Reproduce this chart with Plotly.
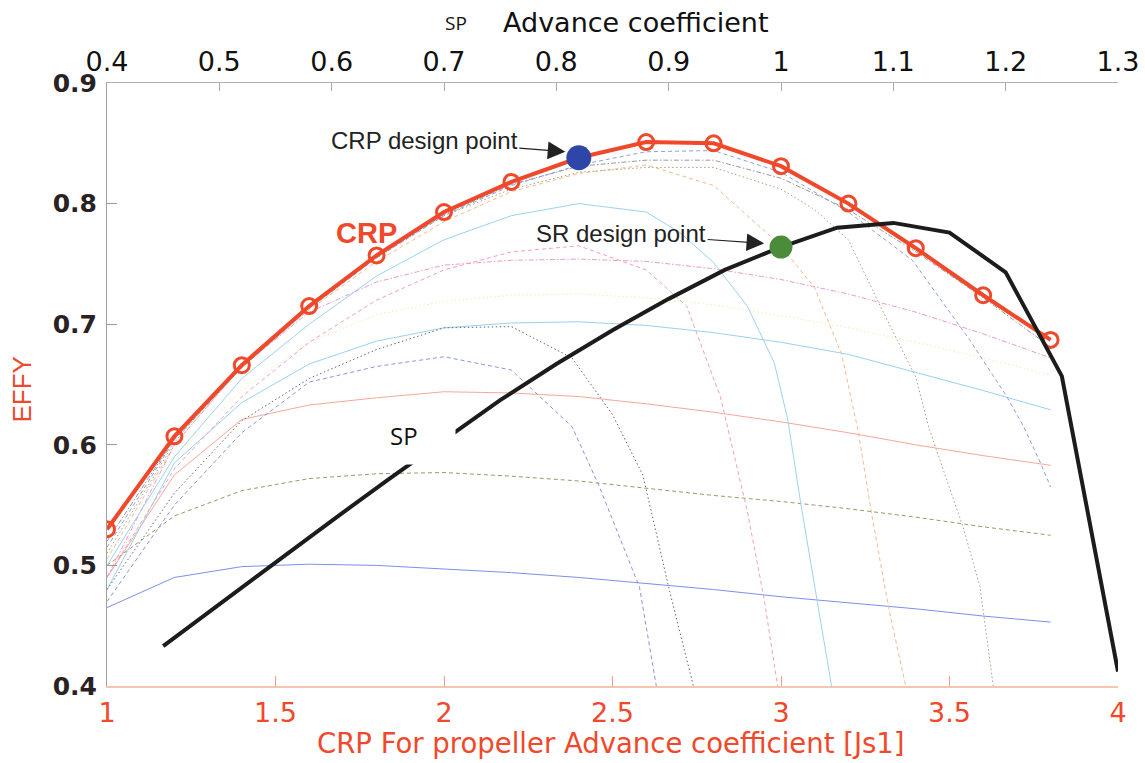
import plotly.graph_objects as go

# ---------------- data ----------------
# CRP propeller: efficiency against Js1 (bottom axis)
crp_js1 = [1.0, 1.2, 1.4, 1.6, 1.8, 2.0, 2.2, 2.4, 2.6, 2.8, 3.0, 3.2, 3.4, 3.6, 3.8]
crp_eff = [0.530, 0.607, 0.666, 0.715, 0.757, 0.793, 0.818, 0.838, 0.851, 0.850,
           0.831, 0.800, 0.763, 0.724, 0.687]

# single (SP) propeller: efficiency against its advance coefficient (top axis)
sp_j = [0.45, 0.50, 0.55, 0.60, 0.65, 0.70, 0.75, 0.80, 0.85, 0.90, 0.95,
        1.00, 1.05, 1.10, 1.15, 1.20, 1.25, 1.30]
sp_eff = [0.433, 0.468, 0.503, 0.537, 0.571, 0.604, 0.637, 0.667, 0.695, 0.721,
          0.745, 0.764, 0.780, 0.784, 0.776, 0.743, 0.657, 0.412]

# design points
crp_design_js1, crp_design_eff = 2.4, 0.838
sr_design_j, sr_design_eff = 1.0, 0.764

# background family of CRP efficiency curves
fam_js1 = [1.0, 1.2, 1.4, 1.6, 1.8, 2.0, 2.2, 2.4, 2.6, 2.8, 3.0, 3.2, 3.4, 3.6, 3.8]
eff_blue_low = [0.465, 0.490, 0.499, 0.501, 0.500, 0.497, 0.494, 0.490, 0.485,
                0.480, 0.474, 0.469, 0.464, 0.458, 0.453]
eff_olive = [0.500, 0.541, 0.562, 0.572, 0.576, 0.577, 0.574, 0.570, 0.564,
             0.558, 0.553, 0.547, 0.540, 0.532, 0.525]
eff_red = [0.490, 0.575, 0.621, 0.633, 0.639, 0.644, 0.643, 0.640, 0.634,
           0.627, 0.619, 0.610, 0.600, 0.591, 0.583]
eff_cyan = [0.480, 0.585, 0.635, 0.667, 0.686, 0.697, 0.701, 0.702, 0.699,
            0.693, 0.685, 0.675, 0.660, 0.645, 0.629]
eff_yellow = [0.490, 0.590, 0.645, 0.685, 0.708, 0.719, 0.724, 0.725, 0.722,
              0.716, 0.707, 0.697, 0.685, 0.672, 0.658]
eff_magenta = [0.490, 0.600, 0.665, 0.710, 0.735, 0.749, 0.753, 0.754, 0.752,
               0.746, 0.737, 0.725, 0.710, 0.692, 0.672]
eff_grey = [0.520, 0.605, 0.665, 0.714, 0.756, 0.791, 0.816, 0.831, 0.836,
            0.836, 0.821, 0.795, 0.760, 0.722, 0.681]

drop1_js1 = [1.0, 1.2, 1.4, 1.6, 1.8, 2.0, 2.2, 2.38, 2.46, 2.58, 2.63]
drop1_eff = [0.470, 0.550, 0.610, 0.652, 0.665, 0.673, 0.662, 0.615, 0.566, 0.482, 0.400]
drop2_js1 = [1.0, 1.2, 1.4, 1.6, 1.8, 2.0, 2.2, 2.38, 2.5, 2.59, 2.67, 2.74]
drop2_eff = [0.480, 0.560, 0.620, 0.655, 0.679, 0.697, 0.698, 0.672, 0.625, 0.575, 0.478, 0.400]
drop3_js1 = [1.0, 1.2, 1.4, 1.6, 1.8, 2.0, 2.2, 2.4, 2.6, 2.72, 2.82, 2.9, 2.95, 2.99]
drop3_eff = [0.490, 0.580, 0.640, 0.685, 0.720, 0.745, 0.760, 0.765, 0.745, 0.715,
             0.640, 0.545, 0.472, 0.400]
drop4_js1 = [1.0, 1.2, 1.4, 1.6, 1.8, 2.0, 2.2, 2.4, 2.6, 2.7, 2.8, 2.9, 2.98, 3.02,
             3.06, 3.11, 3.15]
drop4_eff = [0.500, 0.590, 0.655, 0.700, 0.740, 0.770, 0.790, 0.800, 0.793, 0.776,
             0.751, 0.715, 0.668, 0.621, 0.549, 0.468, 0.400]
drop5_js1 = [1.0, 1.2, 1.4, 1.6, 1.8, 2.0, 2.2, 2.4, 2.6, 2.8, 3.0, 3.1, 3.18, 3.23,
             3.27, 3.32, 3.37]
drop5_eff = [0.505, 0.600, 0.665, 0.712, 0.752, 0.785, 0.810, 0.825, 0.832, 0.815,
             0.765, 0.730, 0.675, 0.610, 0.541, 0.464, 0.400]
drop6_js1 = [1.0, 1.2, 1.4, 1.6, 1.8, 2.0, 2.2, 2.4, 2.6, 2.8, 3.0, 3.1, 3.2, 3.3,
             3.4, 3.44, 3.54, 3.59, 3.63]
drop6_eff = [0.510, 0.602, 0.668, 0.715, 0.755, 0.790, 0.812, 0.826, 0.830, 0.830,
             0.812, 0.795, 0.770, 0.712, 0.656, 0.613, 0.532, 0.483, 0.400]
drop7_js1 = [1.0, 1.2, 1.4, 1.6, 1.8, 2.0, 2.2, 2.4, 2.6, 2.8, 3.0, 3.2, 3.39, 3.56,
             3.67, 3.72, 3.77, 3.8]
drop7_eff = [0.515, 0.604, 0.664, 0.713, 0.755, 0.790, 0.815, 0.832, 0.843, 0.844,
             0.826, 0.793, 0.753, 0.687, 0.640, 0.615, 0.585, 0.565]

# axis ticks
js1_ticks = [1, 1.5, 2, 2.5, 3, 3.5, 4]
js1_ticktext = ["1", "1.5", "2", "2.5", "3", "3.5", "4"]
sp_ticks = [0.4, 0.5, 0.6, 0.7, 0.8, 0.9, 1.0, 1.1, 1.2, 1.3]
sp_ticktext = ["0.4", "0.5", "0.6", "0.7", "0.8", "0.9", "1", "1.1", "1.2", "1.3"]
eff_ticks = [0.4, 0.5, 0.6, 0.7, 0.8, 0.9]
eff_ticktext = ["0.4", "0.5", "0.6", "0.7", "0.8", "0.9"]

# ---------------- styling ----------------
RED = "#f0482a"
LABEL_FONT = "DejaVu Sans, sans-serif"
SANS = "Liberation Sans, Arial, sans-serif"
PLOT_W, PLOT_H = 1011, 603

FINE_DASH = "4px,3px"
FINE_DOT = "1.5px,2.5px"
FINE_DASHDOT = "5px,2px,1.5px,2px"

background = [
    (fam_js1, eff_blue_low, "#7a90ee", "solid"),
    (fam_js1, eff_olive, "#9a9a66", FINE_DASH),
    (fam_js1, eff_red, "#f7a898", "solid"),
    (fam_js1, eff_cyan, "#9ad0f2", "solid"),
    (fam_js1, eff_yellow, "#f3eeb0", FINE_DOT),
    (fam_js1, eff_magenta, "#ec9ad0", FINE_DASHDOT),
    (fam_js1, eff_grey, "#9a9a9a", FINE_DASHDOT),
    (drop1_js1, drop1_eff, "#8a96e0", FINE_DASH),
    (drop2_js1, drop2_eff, "#666677", FINE_DOT),
    (drop3_js1, drop3_eff, "#f2a0be", FINE_DASH),
    (drop4_js1, drop4_eff, "#9cd2f2", "solid"),
    (drop5_js1, drop5_eff, "#f4bc8e", FINE_DASH),
    (drop6_js1, drop6_eff, "#a4a47c", FINE_DOT),
    (drop7_js1, drop7_eff, "#8aa2e0", FINE_DASH),
]

fig = go.Figure()

for xs, ys, col, dash in background:
    fig.add_trace(go.Scatter(x=xs, y=ys, mode="lines", xaxis="x", yaxis="y",
                             line=dict(color=col, width=1, dash=dash),
                             hoverinfo="skip", showlegend=False))

# SP curve on the top axis
fig.add_trace(go.Scatter(x=sp_j, y=sp_eff, mode="lines", xaxis="x2", yaxis="y",
                         line=dict(color="#1c1c1c", width=4), showlegend=False))

# CRP curve with open circle markers
fig.add_trace(go.Scatter(x=crp_js1, y=crp_eff, mode="lines+markers", xaxis="x", yaxis="y",
                         line=dict(color=RED, width=4),
                         marker=dict(symbol="circle-open", size=15, color=RED,
                                     line=dict(color=RED, width=3)),
                         showlegend=False))

# design points
fig.add_trace(go.Scatter(x=[crp_design_js1], y=[crp_design_eff], mode="markers",
                         xaxis="x", yaxis="y",
                         marker=dict(size=25, color="#2d46a8"), showlegend=False))
fig.add_trace(go.Scatter(x=[sr_design_j], y=[sr_design_eff], mode="markers",
                         xaxis="x2", yaxis="y",
                         marker=dict(size=23, color="#4a8c3a"), showlegend=False))


def px_x(p):
    return (p - 107) / PLOT_W


annotations = [
    # design point call-outs
    dict(x=2.36, y=0.843, xref="x", yref="y", text="CRP design point",
         showarrow=True, ax=-141, ay=-11, arrowhead=2, arrowsize=3.2, arrowwidth=1.1,
         arrowcolor="#222", font=dict(family=SANS, size=24, color="#222")),
    dict(x=0.985, y=0.767, xref="x2", yref="y", text="SR design point",
         showarrow=True, ax=-143, ay=-10, arrowhead=2, arrowsize=3.2, arrowwidth=1.1,
         arrowcolor="#222", font=dict(family=SANS, size=24, color="#222")),
    # curve labels
    dict(x=1.77, y=0.776, xref="x", yref="y", text="<b>CRP</b>", showarrow=False,
         font=dict(family=SANS, size=29, color=RED)),
    dict(x=1.935, y=0.603, xref="x", yref="y", text="SP", showarrow=False,
         width=64, height=44, align="left", valign="top", bgcolor="white",
         font=dict(family="Open Sans, sans-serif", size=24, color="#111")),
    # axis titles
    dict(x=0, y=0.5, xref="paper", yref="paper", xshift=-86, yshift=-5, text="EFFY",
         xanchor="center", yanchor="middle", textangle=-90, showarrow=False,
         font=dict(family=SANS, size=26, color=RED)),
    dict(x=px_x(456), y=1, xref="paper", yref="paper", yshift=60,
         xanchor="center", yanchor="middle", text="SP", showarrow=False,
         font=dict(family="Open Sans, sans-serif", size=19, color="#111")),
    dict(x=px_x(636), y=1, xref="paper", yref="paper", yshift=61,
         xanchor="center", yanchor="middle", text="Advance coefficient",
         showarrow=False, font=dict(family=LABEL_FONT, size=27, color="#111")),
    dict(x=px_x(611), y=0, xref="paper", yref="paper", yshift=-57,
         xanchor="center", yanchor="middle",
         text="CRP For propeller Advance coefficient [Js1]",
         showarrow=False, font=dict(family=LABEL_FONT, size=27.5, color=RED)),
]

fig.update_layout(
    width=1145, height=763,
    margin=dict(l=107, r=27, t=83, b=77, autoexpand=False),
    paper_bgcolor="white", plot_bgcolor="white",
    showlegend=False,
    annotations=annotations,
    xaxis=dict(range=[1, 4], tickvals=js1_ticks, ticktext=js1_ticktext,
               ticks="inside", ticklen=10, tickcolor="#e3a08e", tickwidth=1,
               showline=True, linecolor="#f7c4ae", linewidth=2,
               showgrid=False, zeroline=False, ticklabelstandoff=2, automargin=False,
               tickfont=dict(family=LABEL_FONT, size=27, color=RED)),
    xaxis2=dict(range=[0.4, 1.3], overlaying="x", side="top",
                tickvals=sp_ticks, ticktext=sp_ticktext,
                ticks="inside", ticklen=8, tickcolor="#aaaaaa",
                showline=True, linecolor="#b0b0b0", linewidth=1,
                showgrid=False, zeroline=False, automargin=False,
                tickfont=dict(family=LABEL_FONT, size=27, color="#111")),
    yaxis=dict(range=[0.4, 0.9], tickvals=eff_ticks, ticktext=eff_ticktext,
               ticks="inside", ticklen=10, tickcolor="#9a9a9a",
               showline=True, linecolor="#a0a0a0", linewidth=1,
               showgrid=False, zeroline=False, ticklabelstandoff=4, automargin=False,
               tickfont=dict(family=LABEL_FONT, size=25, color="#2a2222", weight="bold")),
    yaxis2=dict(range=[0.4, 0.9], overlaying="y", side="right",
                tickvals=eff_ticks, ticks="inside", ticklen=10, tickcolor="#f2a894",
                showline=True, linecolor="#fbe0d4", linewidth=1, automargin=False,
                showticklabels=False, showgrid=False, zeroline=False),
)

fig.write_html("out.html")
